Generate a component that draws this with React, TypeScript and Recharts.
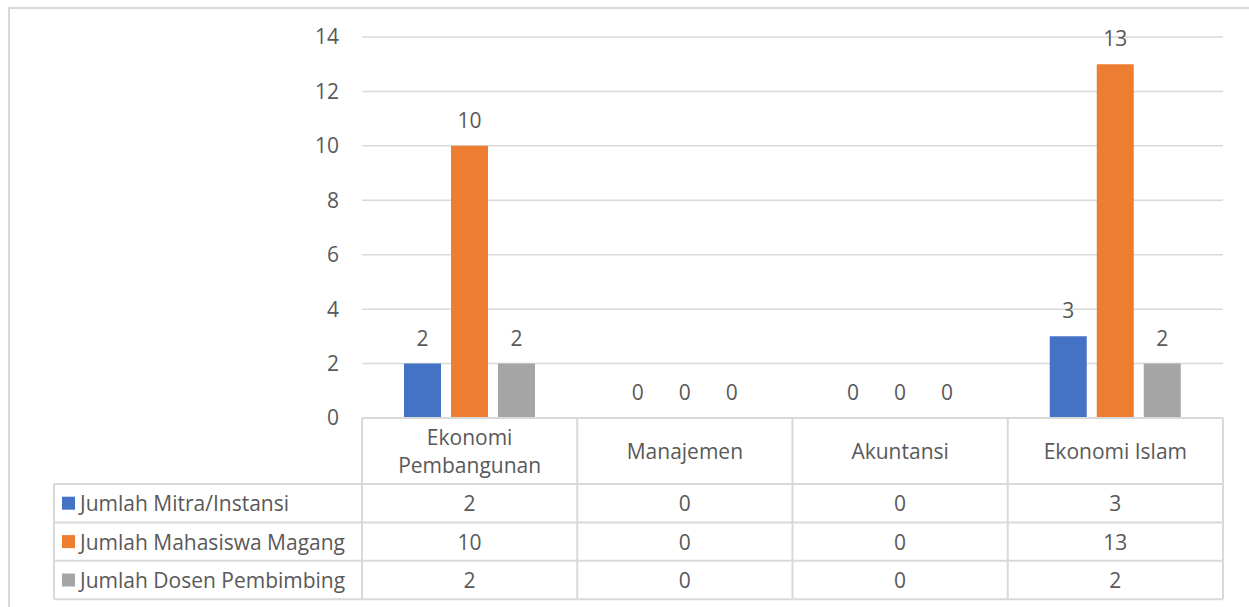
import { BarChart, Bar, XAxis, YAxis, CartesianGrid } from "recharts"

// categories (program studi) and their header lines in the data table
const categories = ["Ekonomi Pembangunan", "Manajemen", "Akuntansi", "Ekonomi Islam"]
const headerLines = [["Ekonomi", "Pembangunan"], ["Manajemen"], ["Akuntansi"], ["Ekonomi Islam"]]

// series values
const mitra = [2, 0, 0, 3]
const mahasiswa = [10, 0, 0, 13]
const dosen = [2, 0, 0, 2]

const yTicks = [0, 2, 4, 6, 8, 10, 12, 14]

const series = [
  { key: "mitra", name: "Jumlah Mitra/Instansi", values: mitra, color: "#4472C4" },
  { key: "mahasiswa", name: "Jumlah Mahasiswa Magang", values: mahasiswa, color: "#ED7D31" },
  { key: "dosen", name: "Jumlah Dosen Pembimbing", values: dosen, color: "#A5A5A5" },
]

const data = categories.map((name, i) => {
  const row: any = { name }
  series.forEach((s) => {
    row[s.key] = s.values[i]
  })
  return row
})

const TEXT = "#595959"
const LINE = "#d9d9d9"
const FONT_SIZE = 21
const HEADER_H = 66
const ROW_H = 38.4
const LEGEND_W = 308

// value label above each bar, also for zero values
function BarValue(props: any) {
  const { x, y, width, value } = props
  return (
    <text x={x + width / 2} y={y - 18} textAnchor="middle" fill={TEXT} fontSize={FONT_SIZE}>
      {value}
    </text>
  )
}

// draws one column of the data table under each category (and the legend column for the first one)
function TableColumn(props: any) {
  const { x, y, payload, index } = props
  const half =
    payload && payload.offset > 0 ? payload.offset : props.width / props.visibleTicksCount / 2
  const left = x - half
  const right = x + half
  const bottom = y + HEADER_H + ROW_H * series.length
  const lines = headerLines[index] || [payload.value]
  const headerMid = y + HEADER_H / 2

  return (
    <g>
      {index === 0 && <line x1={left} y1={y} x2={left} y2={bottom} stroke={LINE} strokeWidth={2} />}
      <line x1={right} y1={y} x2={right} y2={bottom} stroke={LINE} strokeWidth={2} />
      {lines.map((t: string, i: number) => (
        <text
          key={t}
          x={x}
          y={headerMid + (i - (lines.length - 1) / 2) * 28}
          textAnchor="middle"
          dominantBaseline="central"
          fill={TEXT}
          fontSize={FONT_SIZE}
        >
          {t}
        </text>
      ))}
      {series.map((s, r) => {
        const top = y + HEADER_H + ROW_H * r
        return (
          <g key={s.key}>
            <line x1={left} y1={top} x2={right} y2={top} stroke={LINE} strokeWidth={2} />
            <text
              x={x}
              y={top + ROW_H / 2}
              textAnchor="middle"
              dominantBaseline="central"
              fill={TEXT}
              fontSize={FONT_SIZE}
            >
              {s.values[index]}
            </text>
          </g>
        )
      })}
      <line x1={left} y1={bottom} x2={right} y2={bottom} stroke={LINE} strokeWidth={2} />

      {index === 0 && (
        <g>
          <line x1={left - LEGEND_W} y1={y + HEADER_H} x2={left - LEGEND_W} y2={bottom} stroke={LINE} strokeWidth={2} />
          {series.map((s, r) => {
            const top = y + HEADER_H + ROW_H * r
            return (
              <g key={s.key}>
                <line x1={left - LEGEND_W} y1={top} x2={left} y2={top} stroke={LINE} strokeWidth={2} />
                <rect x={left - LEGEND_W + 8} y={top + ROW_H / 2 - 6.5} width={13} height={13} fill={s.color} />
                <text
                  x={left - LEGEND_W + 26}
                  y={top + ROW_H / 2}
                  dominantBaseline="central"
                  fill={TEXT}
                  fontSize={FONT_SIZE}
                >
                  {s.name}
                </text>
              </g>
            )
          })}
          <line x1={left - LEGEND_W} y1={bottom} x2={left} y2={bottom} stroke={LINE} strokeWidth={2} />
        </g>
      )}
    </g>
  )
}

export default function App() {
  return (
    <div
      style={{
        position: "absolute",
        left: 0,
        top: 0,
        width: 1249,
        height: 607,
        overflow: "hidden",
        background: "#fff",
        fontFamily: "'Open Sans', sans-serif",
      }}
    >
      <div
        style={{
          position: "absolute",
          left: 8,
          top: 7,
          width: 1400,
          height: 800,
          border: `2px solid ${LINE}`,
        }}
      />
      <div style={{ position: "absolute", left: 0, top: 0 }}>
        <BarChart
          width={1249}
          height={607}
          data={data}
          margin={{ top: 37, right: 26, left: 300, bottom: 8 }}
          barSize={37}
          barGap={10}
        >
          <CartesianGrid vertical={false} stroke={LINE} strokeWidth={1.5} />
          <XAxis
            dataKey="name"
            height={181}
            interval={0}
            tickLine={false}
            tickSize={0}
            tickMargin={0}
            axisLine={{ stroke: LINE, strokeWidth: 2 }}
            tick={<TableColumn />}
          />
          <YAxis
            width={62}
            domain={[0, 14]}
            ticks={yTicks}
            axisLine={false}
            tickLine={false}
            tickSize={0}
            tickMargin={23}
            tick={{ fill: TEXT, fontSize: FONT_SIZE }}
          />
          {series.map((s) => (
            <Bar
              key={s.key}
              dataKey={s.key}
              name={s.name}
              fill={s.color}
              isAnimationActive={false}
              minPointSize={0.01}
              label={<BarValue />}
            />
          ))}
        </BarChart>
      </div>
    </div>
  )
}
